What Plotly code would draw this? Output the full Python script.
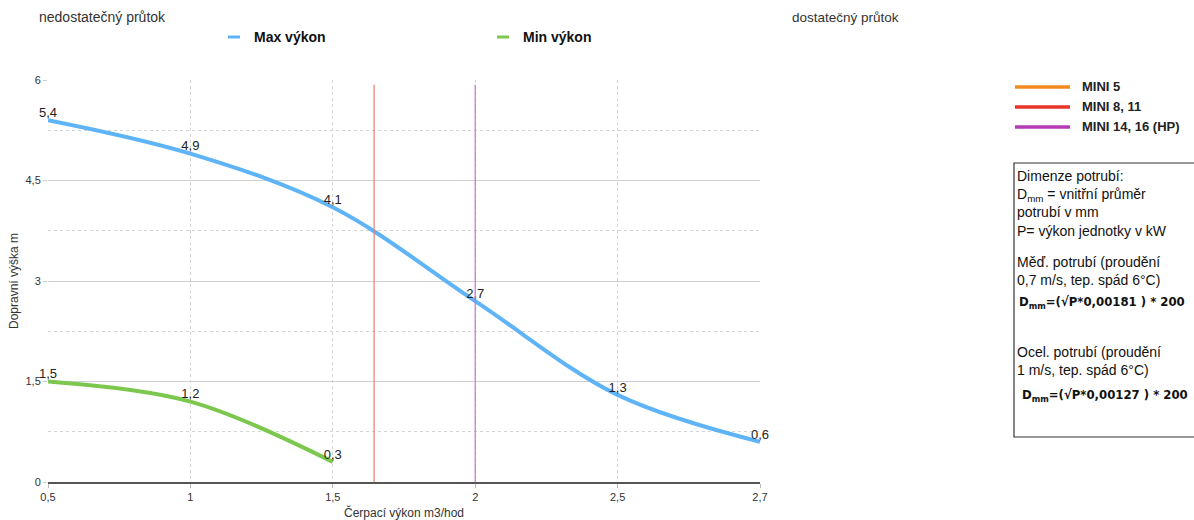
import numpy as np
import plotly.graph_objects as go

# data
X_VALUES = [0.5, 1, 1.5, 2, 2.5, 2.7]
X_LABELS = ["0,5", "1", "1,5", "2", "2,5", "2,7"]
MAX_VYKON = [5.4, 4.9, 4.1, 2.7, 1.3, 0.6]
MIN_VYKON = [1.5, 1.2, 0.3]
Y_TICKS = [0, 1.5, 3, 4.5, 6]

SERIES_NAMES = ["Max výkon", "Min výkon"]
SERIES_COLORS = ["#5fb4f7", "#7cc84e"]

UNIT_NAMES = ["MINI 5", "MINI 8, 11", "MINI 14, 16 (HP)"]
UNIT_FLOW = [None, 1.645, 2.0]  # m3/hod where the unit's line sits
UNIT_COLORS = ["#f28a1e", "#e8352a", "#b63cb6"]
UNIT_LINE_COLORS = ["#f5a060", "#f07a78", "#c86fd6"]

W, H = 1194, 520
L, R, T, B = 48, 760, 80, 482


def px(x):
    return (x - L) / (R - L)


def py(y):
    return (B - y) / (B - T)


def fmt(v):
    return f"{v:g}".replace(".", ",")


FONT = "Liberation Sans, Arial, sans-serif"
COND = "DejaVu Sans Condensed, Liberation Sans, Arial, sans-serif"

idx = list(range(len(X_VALUES)))

fig = go.Figure()
for name, vals, col in zip(SERIES_NAMES, [MAX_VYKON, MIN_VYKON], SERIES_COLORS):
    fig.add_trace(go.Scatter(
        x=idx[:len(vals)], y=vals, mode="lines+text", name=name,
        line=dict(color=col, width=4, shape="spline", smoothing=1.0),
        text=[fmt(v) for v in vals], textposition="top center",
        textfont=dict(family=FONT, size=13, color="#222"),
        cliponaxis=False, showlegend=False,
    ))

for name, flow, col in zip(UNIT_NAMES, UNIT_FLOW, UNIT_LINE_COLORS):
    if flow is None:
        continue
    xi = float(np.interp(flow, X_VALUES, idx))
    fig.add_trace(go.Scatter(
        x=[xi, xi], y=[0, 5.93], mode="lines", showlegend=False,
        line=dict(color=col, width=1.2), hoverinfo="skip", name=name,
    ))

shapes = []
annotations = []

# top series legend
for i, (name, col) in enumerate(zip(SERIES_NAMES, SERIES_COLORS)):
    x0 = 228 + i * 269
    shapes.append(dict(type="line", xref="paper", yref="paper",
                       x0=px(x0), x1=px(x0 + 12), y0=py(37), y1=py(37),
                       line=dict(color=col, width=3)))
    annotations.append(dict(xref="paper", yref="paper", x=px(x0 + 24), y=py(37),
                            xanchor="left", yanchor="middle", showarrow=False,
                            text=f"<b>{name}</b>",
                            font=dict(family=FONT, size=14, color="#111")))

# right-hand unit legend
for i, (name, col) in enumerate(zip(UNIT_NAMES, UNIT_COLORS)):
    yy = 87 + i * 20
    shapes.append(dict(type="line", xref="paper", yref="paper",
                       x0=px(1015), x1=px(1070), y0=py(yy), y1=py(yy),
                       line=dict(color=col, width=3.5)))
    annotations.append(dict(xref="paper", yref="paper", x=px(1080), y=py(yy),
                            xanchor="left", yanchor="middle", showarrow=False,
                            text=f"<b>{name}</b>",
                            font=dict(family=FONT, size=13, color="#222")))

# text box
shapes.append(dict(type="rect", xref="paper", yref="paper",
                   x0=px(1014), x1=px(1200), y0=py(437), y1=py(163),
                   line=dict(color="#333", width=1.2), fillcolor="rgba(0,0,0,0)"))
box_font = dict(family=FONT, size=14, color="#111")
annotations += [
    dict(xref="paper", yref="paper", x=px(1015), y=py(166), xanchor="left", yanchor="top",
         align="left", showarrow=False, font=box_font,
         text="Dimenze potrubí:<br>D<sub>mm</sub> = vnitřní průměr<br>potrubí v mm<br>P= výkon jednotky v kW"),
    dict(xref="paper", yref="paper", x=px(1015), y=py(252), xanchor="left", yanchor="top",
         align="left", showarrow=False, font=box_font,
         text="Měď. potrubí (proudění<br>0,7 m/s, tep. spád 6°C)"),
    dict(xref="paper", yref="paper", x=px(1102), y=py(302), xanchor="center", yanchor="middle",
         showarrow=False, font=dict(family=COND, size=13, color="#111"),
         text="<b>D<sub>mm</sub>=(√P*0,00181 ) * 200</b>"),
    dict(xref="paper", yref="paper", x=px(1015), y=py(342), xanchor="left", yanchor="top",
         align="left", showarrow=False, font=box_font,
         text="Ocel. potrubí (proudění<br>1 m/s, tep. spád 6°C)"),
    dict(xref="paper", yref="paper", x=px(1105), y=py(395), xanchor="center", yanchor="middle",
         showarrow=False, font=dict(family=COND, size=13, color="#111"),
         text="<b>D<sub>mm</sub>=(√P*0,00127 ) * 200</b>"),
]

# zone labels
annotations += [
    dict(xref="paper", yref="paper", x=px(37), y=py(17), xanchor="left", yanchor="middle",
         showarrow=False, text="nedostatečný průtok", font=dict(family=FONT, size=14, color="#333")),
    dict(xref="paper", yref="paper", x=px(790), y=py(17), xanchor="left", yanchor="middle",
         showarrow=False, text="dostatečný průtok", font=dict(family=FONT, size=13.5, color="#333")),
]

fig.update_layout(
    width=W, height=H,
    margin=dict(l=L, r=W - R, t=T, b=H - B, autoexpand=False),
    plot_bgcolor="white", paper_bgcolor="white",
    separators=", ",
    font=dict(family=FONT, size=11, color="#333"),
    showlegend=False,
    shapes=shapes,
    annotations=annotations,
    xaxis=dict(
        range=[0, len(X_VALUES) - 1], tickvals=idx, ticktext=X_LABELS,
        showgrid=True, gridcolor="#d4d4d4", griddash="3px,3px", gridwidth=1,
        showline=True, linecolor="#555", linewidth=2,
        ticks="outside", ticklen=4, tickcolor="#bbb",
        zeroline=False, automargin=False,
        tickfont=dict(family=FONT, size=11, color="#333"),
        title=dict(text="Čerpací výkon m3/hod", font=dict(family=FONT, size=12, color="#333"), standoff=10),
    ),
    yaxis=dict(
        range=[0, 6], tickvals=Y_TICKS, ticktext=[fmt(v) for v in Y_TICKS],
        showgrid=True, gridcolor="#cfcfcf", gridwidth=1,
        minor=dict(dtick=0.75, showgrid=True, gridcolor="#d4d4d4", griddash="3px,3px"),
        zeroline=False, ticks="outside", ticklen=4, tickcolor="#ccc",
        automargin=False,
        tickfont=dict(family=FONT, size=11, color="#333"),
        title=dict(text="Dopravní výška m", font=dict(family=FONT, size=12, color="#333"), standoff=4),
    ),
)

fig.write_html("out.html", config={"displayModeBar": False},
               post_script="document.body.style.margin='0';document.body.style.overflow='hidden';")
